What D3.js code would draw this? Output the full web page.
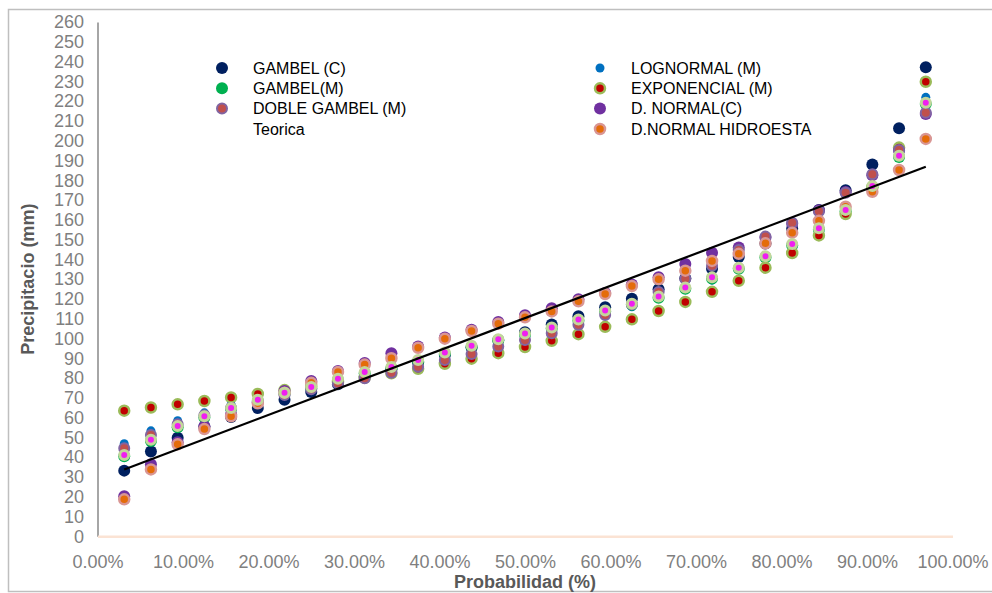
<!DOCTYPE html>
<html>
<head>
<meta charset="utf-8">
<script src="https://cdn.jsdelivr.net/npm/d3@7"></script>
<style>
  body { margin: 0; background: #fff; }
  svg { display: block; font-family: 'Liberation Sans', Arial, sans-serif; }
</style>
</head>
<body>
<div id="chart"></div>
<script>
// probabilidad de cada punto (k / 32)
const prob = [0.03125, 0.0625, 0.09375, 0.125, 0.15625, 0.1875, 0.21875, 0.25, 0.28125, 0.3125,
  0.34375, 0.375, 0.40625, 0.4375, 0.46875, 0.5, 0.53125, 0.5625, 0.59375, 0.625,
  0.65625, 0.6875, 0.71875, 0.75, 0.78125, 0.8125, 0.84375, 0.875, 0.90625, 0.9375, 0.96875];

const gambelC = [33.2, 42.9, 49.8, 55.4, 60.3, 64.8, 69.0, 73.0, 76.9, 80.6, 84.3, 88.0, 91.7, 95.5, 99.3,
  103.1, 107.1, 111.2, 115.8, 120.1, 124.9, 130.5, 135.3, 141.2, 148.0, 155.5, 165.0, 175.0, 188.0, 206.3, 237.1];
const lognormalM = [46.8, 53.3, 58.4, 62.4, 66.5, 70.0, 73.4, 76.6, 79.7, 82.8, 85.8, 88.9, 92.0, 95.1, 98.3,
  101.6, 105.0, 108.5, 112.2, 116.0, 120.3, 124.7, 129.5, 134.8, 140.7, 147.4, 155.2, 164.6, 176.6, 193.3, 221.9];
const gambelM = [40.5, 48.2, 55.1, 60.1, 64.3, 68.4, 72.0, 74.9, 79.0, 82.4, 85.0, 88.5, 92.3, 95.7, 99.0,
  101.9, 105.0, 109.0, 113.6, 117.0, 120.6, 125.2, 130.3, 135.2, 141.0, 147.2, 155.1, 164.3, 176.5, 191.8, 218.6];
const exponencialM = [63.5, 65.1, 66.7, 68.4, 70.2, 72.0, 73.9, 75.9, 78.0, 80.1, 82.4, 84.7, 87.2, 89.8, 92.6,
  95.7, 98.8, 102.2, 105.9, 109.7, 113.9, 118.5, 123.6, 129.2, 135.8, 143.2, 152.1, 162.9, 176.5, 196.5, 229.8];
const dobleGambelM = [44.5, 51.2, 56.6, 61.2, 64.9, 68.3, 71.4, 74.3, 77.2, 79.9, 82.7, 85.7, 89.1, 92.1, 95.9,
  99.2, 102.6, 107.0, 111.9, 117.3, 123.5, 130.2, 136.8, 144.7, 151.5, 158.5, 164.3, 173.7, 183.0, 195.3, 214.1];
const dNormalC = [20.3, 36.4, 47.5, 55.6, 61.6, 67.8, 73.5, 78.5, 83.6, 87.6, 92.5, 96.0, 100.5, 104.4, 108.3,
  111.8, 115.3, 119.8, 123.0, 127.3, 131.0, 137.7, 143.4, 146.0, 151.0, 158.0, 164.8, 174.0, 182.5, 195.0, 213.5];
const hidroesta = [18.7, 33.8, 46.5, 54.2, 60.7, 67.2, 72.6, 77.6, 83.0, 86.8, 90.0, 95.3, 99.9, 103.8, 107.5,
  110.7, 113.7, 118.8, 122.5, 126.5, 129.9, 134.3, 139.2, 142.8, 148.1, 153.5, 159.5, 166.6, 174.2, 185.2, 200.9];
// puntos magenta (sin entrada de leyenda)
const puntosM = [41.1, 48.8, 55.7, 60.7, 64.9, 69.0, 72.6, 75.5, 79.6, 83.0, 85.6, 89.1, 92.9, 96.3, 99.6,
  102.5, 105.6, 109.6, 114.2, 117.6, 121.2, 125.8, 130.9, 135.8, 141.6, 147.8, 155.7, 164.9, 177.1, 192.4, 219.2];

// linea teorica
const teoricaP = [0.03125, 0.96875];
const teoricaV = [33.8, 186.8];

const yTicks = d3.range(0, 261, 10);
const xTicks = [0, 0.1, 0.2, 0.3, 0.4, 0.5, 0.6, 0.7, 0.8, 0.9, 1.0];

const width = 992, height = 593;
const plot = { left: 97.5, right: 952.5, top: 22, bottom: 536.3 };

const styles = {
  gambelC:   { fill: '#002060', stroke: 'none', sw: 0, r: 6 },
  lognormal: { fill: '#0070c0', stroke: 'none', sw: 0, r: 4.5 },
  gambelM:   { fill: '#00b050', stroke: 'none', sw: 0, r: 6 },
  expo:      { fill: '#c00000', stroke: '#9bbb59', sw: 2.5, r: 5 },
  doble:     { fill: '#c0504d', stroke: '#8064a2', sw: 2, r: 5 },
  dnormal:   { fill: '#7030a0', stroke: 'none', sw: 0, r: 6 },
  hidro:     { fill: '#e46c0a', stroke: '#d99694', sw: 2.5, r: 5 },
  puntos:    { fill: '#f01ef0', stroke: '#c3d69b', sw: 3, r: 4.5 }
};

// orden de dibujo (el ultimo queda encima)
const drawOrder = [
  { values: gambelC, st: styles.gambelC },
  { values: lognormalM, st: styles.lognormal },
  { values: gambelM, st: styles.gambelM },
  { values: exponencialM, st: styles.expo },
  { values: dNormalC, st: styles.dnormal },
  { values: dobleGambelM, st: styles.doble },
  { values: hidroesta, st: styles.hidro },
  { values: puntosM, st: styles.puntos }
];

const legendItems = [
  { name: 'GAMBEL (C)', st: styles.gambelC, col: 0, row: 0 },
  { name: 'GAMBEL(M)', st: styles.gambelM, col: 0, row: 1 },
  { name: 'DOBLE GAMBEL (M)', st: styles.doble, col: 0, row: 2 },
  { name: 'Teorica', st: null, col: 0, row: 3 },
  { name: 'LOGNORMAL (M)', st: styles.lognormal, col: 1, row: 0 },
  { name: 'EXPONENCIAL (M)', st: styles.expo, col: 1, row: 1 },
  { name: 'D. NORMAL(C)', st: styles.dnormal, col: 1, row: 2 },
  { name: 'D.NORMAL HIDROESTA', st: styles.hidro, col: 1, row: 3 }
];

const svg = d3.select('#chart')
  .append('svg')
  .attr('width', width)
  .attr('height', height);

svg.append('rect')
  .attr('width', width).attr('height', height)
  .attr('fill', '#fff');

// borde del grafico
svg.append('rect')
  .attr('x', 8.5).attr('y', 9.5)
  .attr('width', 995).attr('height', 582)
  .attr('fill', 'none')
  .attr('stroke', '#bfbfbf')
  .attr('stroke-width', 1.5);

const x = d3.scaleLinear().domain([0, 1]).range([plot.left, plot.right]);
const y = d3.scaleLinear().domain([0, 260]).range([plot.bottom, plot.top]);

// eje y
const yAxis = svg.append('g')
  .attr('transform', `translate(${plot.left},0)`)
  .call(d3.axisLeft(y).tickValues(yTicks).tickSize(0).tickPadding(13.5));
yAxis.select('.domain').attr('stroke', '#a6a6a6').attr('stroke-width', 2);
yAxis.selectAll('text')
  .attr('fill', '#7f7f7f')
  .style('font-size', '18px');

// eje x
const xAxis = svg.append('g')
  .attr('transform', `translate(0,${plot.bottom})`)
  .call(d3.axisBottom(x).tickValues(xTicks).tickSize(0).tickPadding(19).tickFormat(d3.format('.2%')));
xAxis.select('.domain').attr('stroke', '#fbe3d4').attr('stroke-width', 2.5);
xAxis.selectAll('text')
  .attr('fill', '#7f7f7f')
  .style('font-size', '18px');

// titulos de ejes
svg.append('text')
  .attr('x', (plot.left + plot.right) / 2)
  .attr('y', 588)
  .attr('text-anchor', 'middle')
  .attr('fill', '#595959')
  .style('font-size', '18px')
  .style('font-weight', 'bold')
  .text('Probabilidad (%)');

svg.append('text')
  .attr('transform', `translate(34,${(plot.top + plot.bottom) / 2}) rotate(-90)`)
  .attr('text-anchor', 'middle')
  .attr('fill', '#595959')
  .style('font-size', '18px')
  .style('font-weight', 'bold')
  .text('Precipitacio (mm)');

// puntos
drawOrder.forEach(s => {
  svg.append('g')
    .selectAll('circle')
    .data(prob.map((p, i) => ({ p: p, v: s.values[i] })))
    .enter()
    .append('circle')
    .attr('cx', d => x(d.p))
    .attr('cy', d => y(d.v))
    .attr('r', s.st.r)
    .attr('fill', s.st.fill)
    .attr('stroke', s.st.stroke)
    .attr('stroke-width', s.st.sw);
});

// linea teorica
const line = d3.line()
  .x(d => x(d.p))
  .y(d => y(d.v));

svg.append('path')
  .datum(teoricaP.map((p, i) => ({ p: p, v: teoricaV[i] })))
  .attr('fill', 'none')
  .attr('stroke', '#000')
  .attr('stroke-width', 2.2)
  .attr('d', line);

// leyenda
const legendCols = [222, 600];
const legendRows = [68, 88.3, 108.6, 129];

const legend = svg.append('g');
legendItems.forEach(item => {
  const lx = legendCols[item.col];
  const ly = legendRows[item.row];
  if (item.st) {
    legend.append('circle')
      .attr('cx', lx).attr('cy', ly)
      .attr('r', item.st.r)
      .attr('fill', item.st.fill)
      .attr('stroke', item.st.stroke)
      .attr('stroke-width', item.st.sw);
  }
  legend.append('text')
    .attr('x', lx + 31)
    .attr('y', ly)
    .attr('dy', '0.35em')
    .attr('fill', '#000')
    .style('font-size', '16px')
    .text(item.name);
});
</script>
</body>
</html>
